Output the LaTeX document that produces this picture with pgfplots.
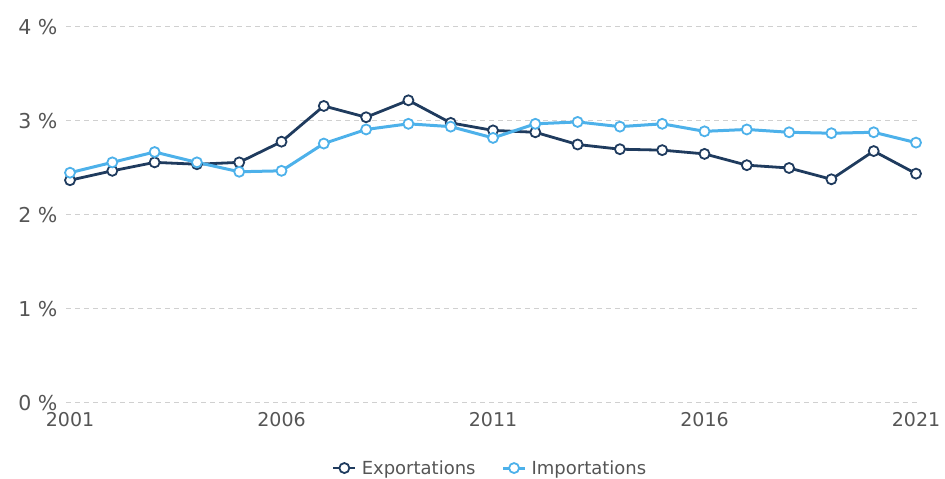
\documentclass[border=0pt]{standalone}
\usepackage{pgfplots}
\pgfplotsset{compat=1.18}
\usepackage{fontspec}
\setmainfont{DejaVu Sans}
\definecolor{expc}{HTML}{1F3B5E}
\definecolor{impc}{HTML}{4DB1EA}
\definecolor{gridc}{HTML}{D0D0D0}
\definecolor{txtc}{HTML}{555555}
\begin{document}
\begin{tikzpicture}[x=1pt,y=1pt]
\path[use as bounding box] (0,0) rectangle (945,479);
\begin{axis}[
  at={(66pt,76pt)}, anchor=south west,
  scale only axis, width=855pt, height=376pt,
  xmin=2000.905, xmax=2021.118, ymin=0, ymax=4,
  axis line style={draw=none}, tick style={draw=none},
  xtick={2001,2006,2011,2016,2021},
  xticklabels={2001,2006,2011,2016,2021},
  ytick={0,1,2,3,4},
  yticklabels={0 \%,1 \%,2 \%,3 \%,4 \%},
  ymajorgrids, major grid style={gridc, line width=1pt, dash pattern=on 5pt off 4pt},
  xticklabel style={font=\fontsize{19}{22}\selectfont, text=txtc, anchor=north, yshift=-6pt},
  yticklabel style={font=\fontsize{20.5}{23}\selectfont, text=txtc, anchor=east, xshift=-5pt},
  legend columns=2,
  legend style={at={(0.496,-0.173)}, anchor=center, draw=none, fill=none,
    font=\fontsize{18}{20}\selectfont, text=txtc,
    /tikz/every odd column/.append style={column sep=3pt},
    /tikz/every even column/.append style={column sep=24pt}},
  legend image code/.code={
    \draw[#1, mark=none] (0pt,0pt) -- (22pt,0pt);
    \draw[#1, only marks] plot coordinates {(11pt,0pt)};
  },
  clip=false,
]
\addplot[expc, line width=2.8pt, mark=*, mark size=5pt,
  mark options={fill=white, draw=expc, line width=1.8pt}] coordinates {
(2001,2.37) (2002,2.47) (2003,2.56) (2004,2.54) (2005,2.56) (2006,2.78)
(2007,3.16) (2008,3.04) (2009,3.22) (2010,2.98) (2011,2.90) (2012,2.88)
(2013,2.75) (2014,2.70) (2015,2.69) (2016,2.65) (2017,2.53) (2018,2.50)
(2019,2.38) (2020,2.68) (2021,2.44)};
\addlegendentry{Exportations}
\addplot[impc, line width=3pt, mark=*, mark size=5pt,
  mark options={fill=white, draw=impc, line width=1.8pt}] coordinates {
(2001,2.45) (2002,2.56) (2003,2.67) (2004,2.56) (2005,2.46) (2006,2.47)
(2007,2.76) (2008,2.91) (2009,2.97) (2010,2.94) (2011,2.82) (2012,2.97)
(2013,2.99) (2014,2.94) (2015,2.97) (2016,2.89) (2017,2.91) (2018,2.88)
(2019,2.87) (2020,2.88) (2021,2.77)};
\addlegendentry{Importations}
\end{axis}
\end{tikzpicture}
\end{document}
